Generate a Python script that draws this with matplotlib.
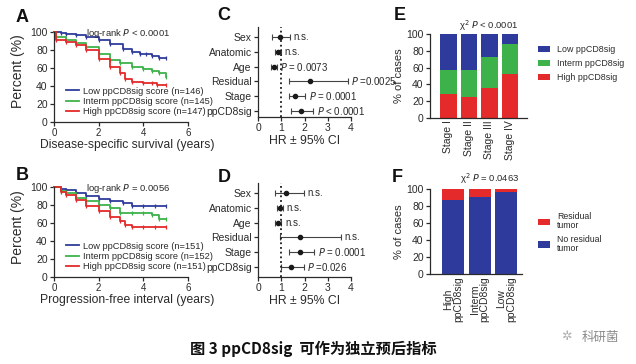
import matplotlib
matplotlib.use('Agg')
import matplotlib.pyplot as plt
import numpy as np

plt.rcParams['font.family'] = ['Liberation Sans', 'DejaVu Sans']
plt.rcParams['axes.linewidth'] = 0.9
plt.rcParams['xtick.major.width'] = 0.9
plt.rcParams['ytick.major.width'] = 0.9
plt.rcParams['xtick.major.size'] = 3
plt.rcParams['ytick.major.size'] = 3

W, H = 636, 364
INK = '#2a2a2a'
BLUE = '#2f3b9c'
GREEN = '#3db24a'
RED = '#e42a2a'

# ---- A: disease-specific survival (years, %) ----
a_low_t = [0, 0.3, 0.55, 1.0, 1.45, 2.0, 2.5, 3.1, 3.5, 3.85, 4.1, 4.4, 4.7, 5.0]
a_low_s = [100, 99, 98, 97, 94, 91, 87, 81, 78, 76, 76, 73, 71, 71]
a_mid_t = [0, 0.1, 0.55, 1.0, 1.45, 2.0, 2.5, 2.95, 3.5, 4.0, 4.4, 4.7, 5.0]
a_mid_s = [100, 94, 91, 88, 83, 76, 69, 65, 61, 59, 57, 54, 50]
a_high_t = [0, 0.1, 0.55, 1.0, 1.45, 2.0, 2.5, 2.95, 3.2, 3.5, 4.0, 4.4, 4.6, 5.0]
a_high_s = [100, 91, 89, 85, 80, 70, 61, 54, 48, 44, 43, 43, 41, 41]
a_labels = ['Low ppCD8sig score (n=146)', 'Interm ppCD8sig score (n=145)',
            'High ppCD8sig score (n=147)']

# ---- B: progression-free interval ----
b_low_t = [0, 0.3, 0.55, 1.0, 1.45, 2.0, 2.5, 3.1, 3.5, 4.0, 4.5, 5.0]
b_low_s = [100, 98, 97, 93, 90, 87, 84, 82, 79, 79, 79, 79]
b_mid_t = [0, 0.3, 0.55, 1.0, 1.45, 2.0, 2.5, 2.95, 3.5, 4.0, 4.4, 4.7, 5.0]
b_mid_s = [100, 96, 93, 88, 84, 80, 77, 71, 71, 71, 69, 64, 64]
b_high_t = [0, 0.3, 0.55, 1.0, 1.45, 2.0, 2.5, 2.95, 3.2, 3.5, 4.0, 4.5, 5.0]
b_high_s = [100, 95, 91, 86, 79, 73, 67, 62, 58, 56, 56, 56, 56]
b_labels = ['Low ppCD8sig score (n=151)', 'Interm ppCD8sig score (n=152)',
            'High ppCD8sig score (n=151)']

# ---- C / D: hazard ratios ----
covariates = ['Sex', 'Anatomic', 'Age', 'Residual', 'Stage', 'ppCD8sig']
c_hr = [0.94, 0.85, 0.68, 2.25, 1.6, 1.84]
c_lo = [0.62, 0.75, 0.58, 1.35, 1.35, 1.4]
c_hi = [1.38, 0.97, 0.80, 3.87, 2.03, 2.38]
c_txt = ['n.s.', 'n.s.', '$P$ = 0.0073', '$P$ =0.0025', '$P$ = 0.0001', '$P$ < 0.0001']
d_hr = [1.22, 0.93, 0.86, 1.8, 1.81, 1.43]
d_lo = [0.75, 0.8, 0.72, 0.93, 1.33, 1.0]
d_hi = [1.96, 1.07, 1.01, 3.55, 2.42, 1.96]
d_txt = ['n.s.', 'n.s.', 'n.s.', 'n.s.', '$P$ = 0.0001', '$P$ =0.026']

# ---- E: ppCD8sig groups by stage (% of cases) ----
stages = ['Stage I', 'Stage II', 'Stage III', 'Stage IV']
e_high = [29, 25, 36, 52]
e_interm = [28, 32, 37, 36]
e_low = [43, 43, 27, 12]

# ---- F: residual tumor by ppCD8sig group ----
groups = ['High\nppCD8sig', 'Interm\nppCD8sig', 'Low\nppCD8sig']
f_none = [87, 91, 97]
f_resid = [13, 9, 3]

fig = plt.figure(figsize=(W / 100, H / 100), dpi=100)


def box(left, top, right, bottom):
    return fig.add_axes([left / W, 1 - bottom / H, (right - left) / W, (bottom - top) / H])


def ftext(x, y, s, **kw):
    kw.setdefault('color', INK)
    fig.text(x / W, 1 - y / H, s, **kw)


def style(ax):
    for s in ['top', 'right']:
        ax.spines[s].set_visible(False)
    for s in ['left', 'bottom']:
        ax.spines[s].set_color(INK)
    ax.tick_params(colors=INK, labelsize=7.5, pad=1.5)


def km(ax, curves, labels, ptext):
    for (t, s), c, lab in zip(curves, [BLUE, GREEN, RED], labels):
        ax.plot(t, s, drawstyle='steps-post', color=c, lw=1.3, label=lab, clip_on=False)
        ax.plot(t[1:], s[1:], ls='none', marker='|', ms=3.5, mew=0.9, color=c, clip_on=False)
    ax.set_xlim(0, 6)
    ax.set_ylim(0, 100)
    ax.set_xticks([0, 2, 4, 6])
    ax.set_yticks(range(0, 101, 20))
    style(ax)
    ax.tick_params(axis='x', labelsize=7, pad=1)
    ax.text(0.55, 0.98, ptext, transform=ax.transAxes, ha='center', va='center',
            fontsize=6.8, color=INK)
    leg = ax.legend(loc='lower left', bbox_to_anchor=(0.05, 0.0), frameon=False,
                    fontsize=6.7, handlelength=1.4, handletextpad=0.4,
                    labelspacing=0.15, borderpad=0.1)
    for t in leg.get_texts():
        t.set_color(INK)


axA = box(54, 32, 188, 122)
km(axA, [(a_low_t, a_low_s), (a_mid_t, a_mid_s), (a_high_t, a_high_s)], a_labels,
   'log-rank $P$ < 0.0001')
axB = box(54, 187, 188, 277)
km(axB, [(b_low_t, b_low_s), (b_mid_t, b_mid_s), (b_high_t, b_high_s)], b_labels,
   'log-rank $P$ = 0.0056')
ftext(127, 145, 'Disease-specific survival (years)', fontsize=8.7, ha='center', va='center')
ftext(127, 300, 'Progression-free interval (years)', fontsize=8.7, ha='center', va='center')
ftext(18, 71, 'Percent (%)', fontsize=10, rotation=90, ha='center', va='center')
ftext(18, 227, 'Percent (%)', fontsize=10, rotation=90, ha='center', va='center')


def forest(ax, hr, lo, hi, txt):
    y = np.arange(len(covariates))
    hr = np.array(hr)
    ax.errorbar(hr, y, xerr=[hr - np.array(lo), np.array(hi) - hr], fmt='o', ms=3,
                color='#1a1a1a', ecolor='#444444', elinewidth=0.8, capsize=2.2, capthick=0.8)
    ax.axvline(1, color='#1a1a1a', ls=(0, (1, 1.6)), lw=1.3)
    for yi, h, s in zip(y, hi, txt):
        ax.text(h + 0.15, yi, s, fontsize=7, va='center', ha='left', color=INK)
    ax.set_xlim(0, 4)
    ax.set_xticks([0, 1, 2, 3, 4])
    ax.set_yticks(y)
    ax.set_yticklabels(covariates)
    style(ax)
    ax.tick_params(axis='y', labelsize=7.5)
    ax.set_xlabel('HR ± 95% CI', fontsize=8.8, color=INK, labelpad=1)


axC = box(258, 27, 351, 117)
forest(axC, c_hr, c_lo, c_hi, c_txt)
axC.set_ylim(5.4, -0.68)
axD = box(258, 183, 351, 277)
forest(axD, d_hr, d_lo, d_hi, d_txt)
axD.set_ylim(5.68, -0.68)

# E stacked bars
axE = box(430, 34, 527, 118)
xe = np.arange(len(stages))
axE.bar(xe, e_high, width=0.82, color=RED, label='High ppCD8sig')
axE.bar(xe, e_interm, width=0.82, bottom=e_high, color=GREEN, label='Interm ppCD8sig')
axE.bar(xe, e_low, width=0.82, bottom=np.add(e_high, e_interm), color=BLUE,
        label='Low ppCD8sig')
axE.set_xlim(-0.9, 3.83)
axE.set_ylim(0, 100)
axE.set_yticks(range(0, 101, 20))
axE.set_xticks(xe)
axE.set_xticklabels(stages, rotation=90, fontsize=7)
style(axE)
axE.tick_params(axis='x', length=0)
axE.set_ylabel('% of cases', fontsize=8, color=INK, labelpad=2)
axE.text(0.6, 1.1, 'χ$^2$ $P$ < 0.0001', transform=axE.transAxes, ha='center',
         va='center', fontsize=6.8, color=INK)
h, l = axE.get_legend_handles_labels()
legE = axE.legend(h[::-1], l[::-1], loc='upper left', bbox_to_anchor=(534 / W, 1 - 41 / H),
                  bbox_transform=fig.transFigure, frameon=False, fontsize=6.4,
                  handlelength=1.3, handleheight=0.7, labelspacing=0.55, handletextpad=0.8,
                  borderpad=0)
for t in legE.get_texts():
    t.set_color(INK)

# F stacked bars
axF = box(430, 189, 522, 274)
xf = np.arange(len(groups))
axF.bar(xf, f_none, width=0.83, color=BLUE, label='No residual\ntumor')
axF.bar(xf, f_resid, width=0.83, bottom=f_none, color=RED, label='Residual\ntumor')
axF.set_xlim(-0.87, 2.6)
axF.set_ylim(0, 100)
axF.set_yticks(range(0, 101, 20))
axF.set_xticks(xf)
axF.set_xticklabels(groups, rotation=90, fontsize=6.6, linespacing=1.0)
style(axF)
axF.tick_params(axis='x', length=0)
axF.set_ylabel('% of cases', fontsize=8, color=INK, labelpad=2)
axF.text(0.65, 1.12, 'χ$^2$ $P$ = 0.0463', transform=axF.transAxes, ha='center',
         va='center', fontsize=6.8, color=INK)
h, l = axF.get_legend_handles_labels()
legF = axF.legend(h[::-1], l[::-1], loc='upper left', bbox_to_anchor=(534 / W, 1 - 208 / H),
                  bbox_transform=fig.transFigure, frameon=False, fontsize=6.3,
                  handlelength=1.3, handleheight=0.7, labelspacing=0.6, handletextpad=0.8,
                  borderpad=0)
for t in legF.get_texts():
    t.set_color(INK)
    t.set_linespacing(0.95)

# panel letters
for x, y, s in [(22, 17, 'A'), (22, 175, 'B'), (224, 15, 'C'), (224, 177, 'D'),
                (400, 15, 'E'), (397, 177, 'F')]:
    ftext(x, y, s, fontsize=13, fontweight='bold', ha='center', va='center', color='#111111')

# caption and watermark
ftext(190, 349, '图 3 ppCD8sig  可作为独立预后指标', fontsize=11, fontweight='bold',
      ha='left', va='center', color='#111111',
      family=['Noto Sans CJK SC', 'DejaVu Sans'])
ftext(582, 337, '科研菌', fontsize=9, ha='left', va='center', color='#8a8a8a',
      family=['Noto Sans CJK SC', 'DejaVu Sans'])
ftext(566, 337, '✲', fontsize=9, ha='center', va='center', color='#b0b0b0',
      family=['DejaVu Sans'])

fig.savefig('out.png', dpi=100, facecolor='white')
